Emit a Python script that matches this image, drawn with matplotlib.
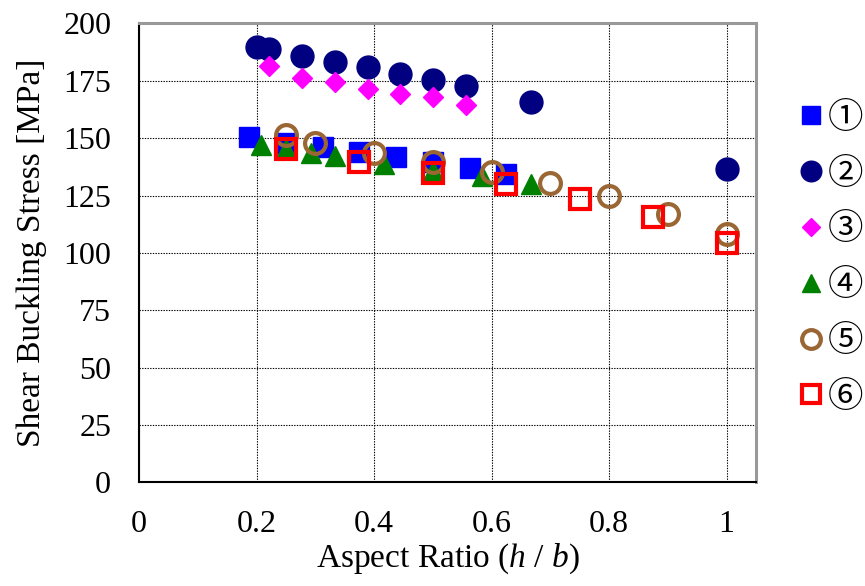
import matplotlib
matplotlib.use("Agg")
import matplotlib.pyplot as plt

plt.rcParams['font.family'] = ['Liberation Serif', 'DejaVu Serif']
plt.rcParams['mathtext.fontset'] = 'custom'
plt.rcParams['mathtext.rm'] = 'Liberation Serif'
plt.rcParams['mathtext.it'] = 'Liberation Serif:italic'

# aspect ratio h/b and buckling stress [MPa] for each case
x1 = [0.1875, 0.25, 0.3125, 0.375, 0.4375, 0.5, 0.5625, 0.625]
y1 = [150.5, 148.0, 146.1, 143.9, 141.7, 139.6, 137.0, 134.5]

x2 = [0.2, 0.222, 0.278, 0.333, 0.389, 0.444, 0.5, 0.556, 0.667, 1.0]
y2 = [189.7, 189.0, 185.8, 183.2, 181.2, 177.8, 175.2, 172.6, 165.7, 136.4]

x3 = [0.222, 0.278, 0.333, 0.389, 0.444, 0.5, 0.556]
y3 = [181.4, 176.3, 174.3, 171.5, 169.4, 167.9, 164.6]

x4 = [0.208, 0.25, 0.292, 0.333, 0.417, 0.5, 0.583, 0.667]
y4 = [146.8, 145.4, 143.4, 142.1, 138.6, 135.6, 133.4, 130.1]

x5 = [0.25, 0.3, 0.4, 0.5, 0.6, 0.7, 0.8, 0.9, 1.0]
y5 = [151.2, 148.0, 143.7, 139.6, 135.2, 130.4, 124.6, 117.1, 108.1]

x6 = [0.25, 0.375, 0.5, 0.625, 0.75, 0.875, 1.0]
y6 = [145.4, 139.6, 135.0, 129.8, 123.6, 115.6, 104.4]

labels = ['\u2460', '\u2461', '\u2462', '\u2463', '\u2464', '\u2465']

fig = plt.figure(figsize=(8.65, 5.86), dpi=100)
ax = fig.add_axes([0.1607, 0.177, 0.7133, 0.783])

brown = '#9a6633'
ax.plot(x1, y1, 's', ms=15, color='#0000ff', mec='#0000ff', label=labels[0], zorder=3)
ax.plot(x2, y2, 'o', ms=16.5, color='#000080', mec='#000080', label=labels[1], zorder=3)
ax.plot(x3, y3, 'D', ms=10.5, color='#ff00ff', mec='#ff00ff', label=labels[2], zorder=3)
ax.plot(x4, y4, '^', ms=15, color='#008000', mec='#008000', label=labels[3], zorder=3)
ax.plot(x5, y5, 'o', ms=15, mfc='none', mec=brown, mew=3, label=labels[4], zorder=4)
ax.plot(x6, y6, 's', ms=14, mfc='none', mec='#ff0000', mew=3, label=labels[5], zorder=5)

ax.set_xlim(0, 1.05)
ax.set_ylim(0, 200)
ax.set_xticks([0, 0.2, 0.4, 0.6, 0.8, 1.0])
ax.set_xticklabels(['0', '0.2', '0.4', '0.6', '0.8', '1'])
ax.set_yticks(range(0, 201, 25))
ax.tick_params(length=0, labelsize=23, pad=20)
ax.grid(True, color='black', linestyle=(0, (1.2, 1.2)), linewidth=0.8)
ax.set_axisbelow(True)

for side in ['left', 'bottom']:
    ax.spines[side].set_color('black')
    ax.spines[side].set_linewidth(1.5)
for side in ['top', 'right']:
    ax.spines[side].set_color('#999999')
    ax.spines[side].set_linewidth(2.2)

ax.set_xlabel(r'Aspect Ratio ($h$ / $b$)', fontsize=24, labelpad=2)
ax.set_ylabel('Shear Buckling Stress [MPa]', fontsize=24, labelpad=12)

leg = fig.legend(loc='center left', bbox_to_anchor=(0.926, 0.561), frameon=False,
                 borderpad=0, borderaxespad=0,
                 handlelength=0.55, handletextpad=0.2, labelspacing=0.56,
                 prop={'family': ['Noto Sans CJK JP', 'DejaVu Sans'], 'size': 25.5})
for h in leg.legend_handles:
    h.set_markersize(h.get_markersize() * 0.9)

fig.savefig('out.png', dpi=100)
